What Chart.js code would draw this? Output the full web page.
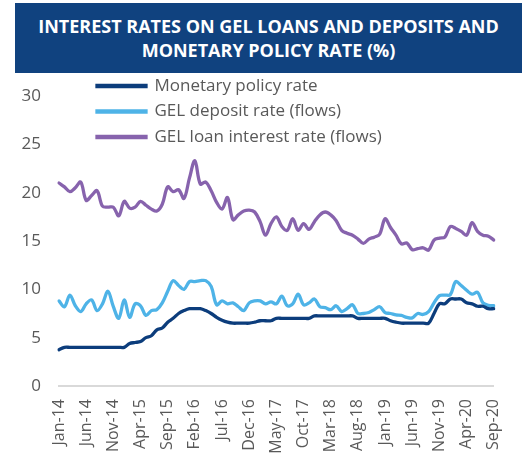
<!DOCTYPE html>
<html>
<head>
<meta charset="utf-8">
<script src="https://cdn.jsdelivr.net/npm/chart.js@4.4.0/dist/chart.umd.min.js"></script>
<style>
  html, body { margin: 0; padding: 0; background: #fff; }
  #wrap { position: relative; width: 526px; height: 455px; }
  #title {
    position: absolute; left: 15px; top: 3px; width: 507px; height: 70px;
    background: #10427f; color: #fff;
    font-family: "Open Sans", sans-serif; font-weight: bold; font-size: 18px; line-height: 24px;
    text-align: center; display: flex; align-items: center; justify-content: center;
  }
  canvas { position: absolute; left: 0; top: 0; }
</style>
</head>
<body>
<div id="wrap">
  <canvas id="myChart" width="526" height="455"></canvas>
  <div id="title">INTEREST RATES ON GEL LOANS AND DEPOSITS AND<br>MONETARY POLICY RATE (%)</div>
</div>
<script>
// monthly, Jan-14 .. Sep-20
const monthNames = ['Jan','Feb','Mar','Apr','May','Jun','Jul','Aug','Sep','Oct','Nov','Dec'];
const years = ['14','15','16','17','18','19','20'];
const tickLabels = ['Jan-14','Jun-14','Nov-14','Apr-15','Sep-15','Feb-16','Jul-16','Dec-16','May-17',
                    'Oct-17','Mar-18','Aug-18','Jan-19','Jun-19','Nov-19','Apr-20','Sep-20'];

const policyRate = [
  3.75, 4.0, 4.0, 4.0, 4.0, 4.0, 4.0, 4.0, 4.0, 4.0,
  4.0, 4.0, 4.0, 4.4, 4.5, 4.6, 5.0, 5.2, 5.8, 6.0,
  6.6, 7.0, 7.5, 7.8, 8.0, 8.0, 8.0, 7.8, 7.5, 7.1,
  6.8, 6.6, 6.5, 6.5, 6.5, 6.5, 6.6, 6.75, 6.75, 6.75,
  7.0, 7.0, 7.0, 7.0, 7.0, 7.0, 7.0, 7.25, 7.25, 7.25,
  7.25, 7.25, 7.25, 7.25, 7.25, 7.0, 7.0, 7.0, 7.0, 7.0,
  7.0, 6.75, 6.6, 6.5, 6.5, 6.5, 6.5, 6.5, 6.5, 7.5,
  8.5, 8.5, 9.0, 9.0, 9.0, 8.6, 8.5, 8.25, 8.25, 8.0,
  8.0
];
const depositRate = [
  8.8, 8.2, 9.4, 8.3, 7.7, 8.5, 8.9, 7.8, 8.5, 9.8,
  8.2, 7.0, 8.9, 7.1, 8.5, 8.3, 7.3, 7.8, 7.9, 8.6,
  9.8, 10.9, 10.4, 10.0, 10.8, 10.8, 10.9, 10.9, 10.3, 8.4,
  8.8, 8.5, 8.6, 8.2, 7.8, 8.6, 8.8, 8.8, 8.5, 8.7,
  8.5, 9.3, 8.3, 8.5, 9.5, 8.4, 8.6, 9.0, 8.2, 8.1,
  7.9, 8.3, 7.7, 8.0, 8.4, 7.5, 7.5, 7.6, 7.9, 8.2,
  7.6, 7.5, 7.35, 7.3, 7.1, 7.05, 7.5, 7.4, 7.7, 8.6,
  9.35, 9.4, 9.45, 10.8, 10.4, 9.9, 9.5, 9.7, 8.6, 8.35,
  8.3
];
const loanRate = [
  21.0, 20.6, 20.1, 20.5, 21.1, 19.2, 19.7, 20.2, 18.6, 18.5,
  18.5, 17.6, 19.1, 18.4, 18.5, 19.1, 18.7, 18.3, 18.1, 18.8,
  20.6, 20.1, 20.3, 19.4, 21.5, 23.3, 20.9, 21.1, 20.2, 19.0,
  18.3, 19.5, 17.2, 17.7, 18.1, 18.2, 18.0, 17.0, 15.6, 16.8,
  17.5, 16.5, 16.1, 17.3, 16.1, 16.8, 16.2, 17.0, 17.7, 18.0,
  17.7, 17.1, 16.1, 15.8, 15.6, 15.2, 14.75, 15.2, 15.4, 15.7,
  17.3, 16.4, 15.6, 14.7, 14.8, 14.1, 14.2, 14.3, 14.05, 15.1,
  15.3, 15.4, 16.5, 16.3, 16.0, 15.6, 16.9, 16.0, 15.6, 15.5,
  15.1
];

let labels = [];
for (let y = 0; y < years.length; y++) {
  for (let m = 0; m < 12; m++) {
    if (labels.length < policyRate.length) labels.push(monthNames[m] + '-' + years[y]);
  }
}

const grey = '#595959';
const font = 'Open Sans';

// put the legend in the upper left corner of the plot
const legendSpot = {
  id: 'legendSpot',
  afterLayout(chart) {
    const lg = chart.legend;
    lg.left = 88.5;
    lg.top = 69;
    lg.right = lg.left + lg.width;
    lg.bottom = lg.top + lg.height;
  }
};

new Chart(document.getElementById('myChart'), {
  type: 'line',
  data: {
    labels: labels,
    datasets: [
      { label: 'Monetary policy rate', data: policyRate, borderColor: '#0c3d7c', backgroundColor: '#0c3d7c' },
      { label: 'GEL deposit rate (flows)', data: depositRate, borderColor: '#4eb3e7', backgroundColor: '#4eb3e7' },
      { label: 'GEL loan interest rate (flows)', data: loanRate, borderColor: '#8763ad', backgroundColor: '#8763ad' }
    ]
  },
  options: {
    responsive: false,
    animation: false,
    layout: { padding: { left: 0, right: 15, top: 96, bottom: 0 } },
    elements: {
      point: { radius: 0 },
      line: { borderWidth: 3.3, tension: 0.35, borderCapStyle: 'round' }
    },
    plugins: {
      title: { display: false },
      tooltip: { enabled: false },
      legend: {
        position: 'chartArea',
        align: 'start',
        labels: {
          boxWidth: 49, boxHeight: 1, padding: 8.5,
          color: grey, font: { family: font, size: 17 }
        }
      }
    },
    scales: {
      x: {
        grid: { display: false, drawTicks: false },
        border: { display: true, color: '#d9d9d9', width: 2 },
        afterFit: (s) => { s.height = 69; },
        ticks: {
          autoSkip: false, minRotation: 90, maxRotation: 90, padding: 13,
          color: grey, font: { family: font, size: 16 },
          callback: function (v) {
            const l = this.getLabelForValue(v);
            return tickLabels.includes(l) ? l : '';
          }
        }
      },
      y: {
        min: 0, max: 30,
        grid: { display: false, drawTicks: false },
        border: { display: false },
        afterFit: (s) => { s.width = 59; },
        ticks: { stepSize: 5, padding: 18, color: grey, font: { family: font, size: 17 } }
      }
    }
  },
  plugins: [legendSpot]
});
</script>
</body>
</html>
